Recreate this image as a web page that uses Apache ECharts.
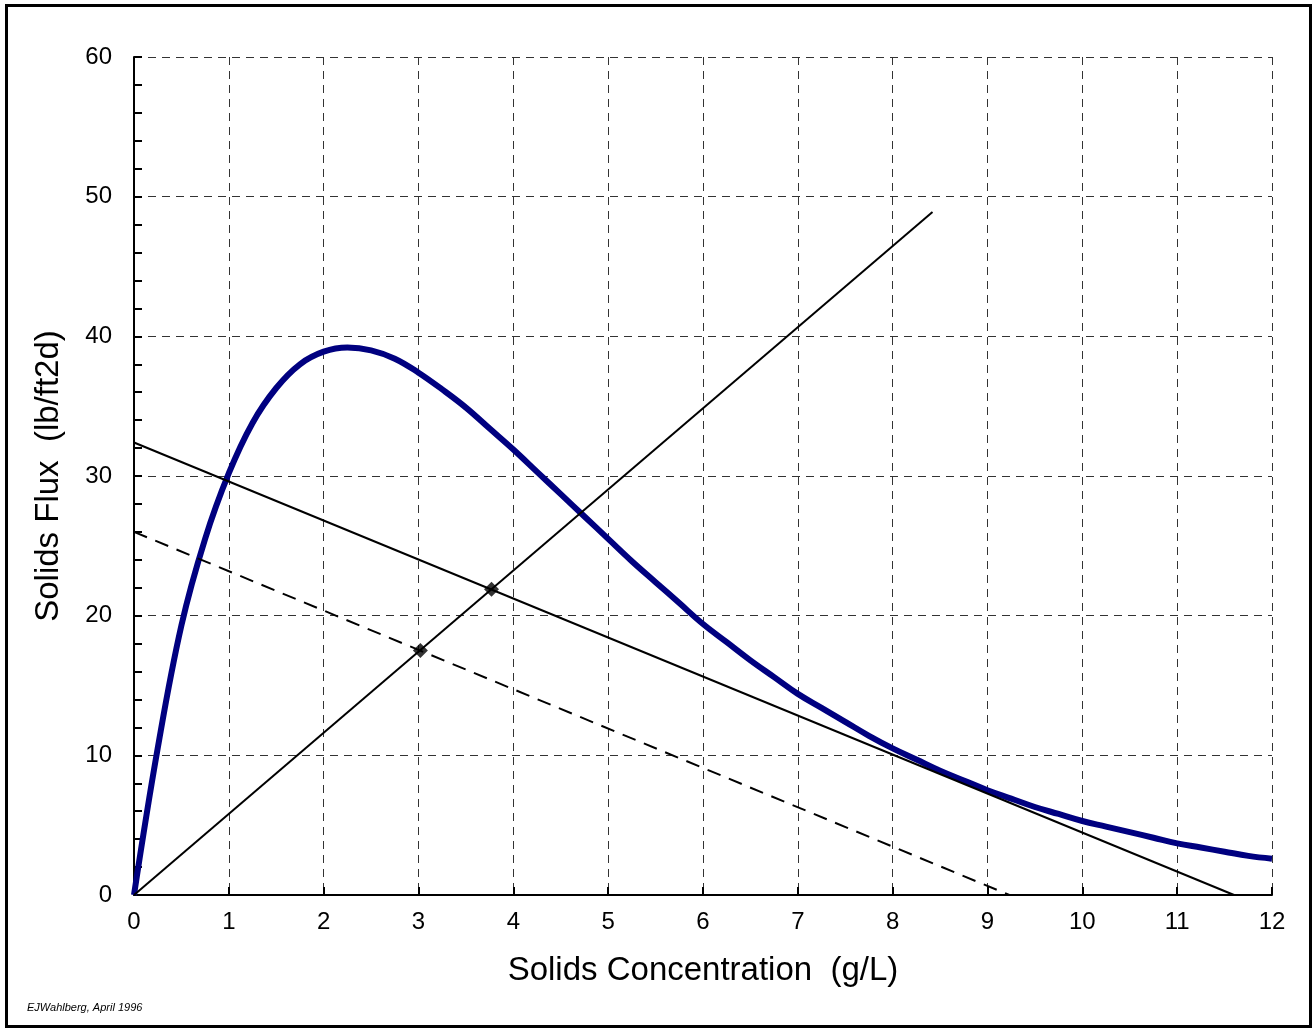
<!DOCTYPE html>
<html>
<head>
<meta charset="utf-8">
<title>Solids Flux</title>
<script src="https://cdn.jsdelivr.net/npm/echarts@6/dist/echarts.min.js"></script>
<style>
  html, body { margin: 0; padding: 0; background: #fff; }
  #chart { width: 1314px; height: 1030px; }
</style>
</head>
<body>
<div id="chart"></div>
<script>
// flux curve, every 0.25 g/L
var concX = [0, 0.25, 0.5, 0.75, 1, 1.25, 1.5, 1.75, 2, 2.25, 2.5, 2.75, 3, 3.25, 3.5, 3.75, 4, 4.25, 4.5, 4.75, 5, 5.25, 5.5, 5.75, 6, 6.25, 6.5, 6.75, 7, 7.25, 7.5, 7.75, 8, 8.25, 8.5, 8.75, 9, 9.25, 9.5, 9.75, 10, 10.25, 10.5, 10.75, 11, 11.25, 11.5, 11.75, 12];
var fluxY = [0, 10.5, 19.3, 25.5, 30.2, 33.8, 36.3, 38.0, 38.9, 39.2, 39.0, 38.4, 37.4, 36.2, 34.9, 33.4, 31.9, 30.3, 28.7, 27.1, 25.5, 23.9, 22.4, 20.9, 19.4, 18.1, 16.8, 15.6, 14.4, 13.4, 12.4, 11.4, 10.5, 9.7, 8.9, 8.2, 7.5, 6.9, 6.3, 5.8, 5.3, 4.9, 4.5, 4.1, 3.7, 3.4, 3.1, 2.8, 2.6];

// straight lines (end points)
var overflowLine = [[0, 0], [8.42, 48.9]];
var underflowLine = [[0, 32.4], [11.6, 0]];
var underflowDashed = [[0, 26], [9.23, 0]];
var opPoints = [[3.77, 21.9], [3.02, 17.5]];

var xTicks = ['0', '1', '2', '3', '4', '5', '6', '7', '8', '9', '10', '11', '12'];

var chart = echarts.init(document.getElementById('chart'));
var font = 'Liberation Sans, Arial, sans-serif';

var option = {
  animation: false,
  backgroundColor: '#fff',
  grid: { left: 134, right: 42, top: 57, bottom: 135 },
  graphic: [
    {
      type: 'rect',
      shape: { x: 6.5, y: 5.5, width: 1304, height: 1021 },
      style: { fill: 'none', stroke: '#000', lineWidth: 3 }
    },
    {
      type: 'text',
      left: 27, top: 1002,
      style: { text: 'EJWahlberg, April 1996', font: 'italic 11px ' + font, fill: '#000' }
    }
  ],
  xAxis: {
    type: 'value',
    min: 0, max: 12, interval: 1,
    name: 'Solids Concentration  (g/L)',
    nameLocation: 'middle',
    nameGap: 59,
    nameTextStyle: { fontFamily: font, fontSize: 33, color: '#000' },
    axisLine: { lineStyle: { color: '#000', width: 2 } },
    axisTick: { inside: true, length: 8, lineStyle: { color: '#000', width: 2 } },
    axisLabel: {
      margin: 15, fontFamily: font, fontSize: 24, color: '#000',
      formatter: function (v) { return xTicks[Math.round(v)]; }
    },
    splitLine: { show: true, lineStyle: { color: '#333', width: 1, type: [8, 6] } }
  },
  yAxis: {
    type: 'value',
    min: 0, max: 60, interval: 10,
    name: 'Solids Flux  (lb/ft2d)',
    nameLocation: 'middle',
    nameGap: 69,
    nameTextStyle: { fontFamily: font, fontSize: 33, color: '#000' },
    axisLine: { show: true, lineStyle: { color: '#000', width: 2 } },
    axisTick: { show: true, inside: true, length: 8, lineStyle: { color: '#000', width: 2 } },
    minorTick: { show: true, splitNumber: 5, length: 8, lineStyle: { color: '#000', width: 2 } },
    axisLabel: { margin: 22, fontFamily: font, fontSize: 24, color: '#000' },
    splitLine: { show: true, lineStyle: { color: '#333', width: 1, type: [8, 6] } }
  },
  series: [
    {
      type: 'line',
      data: concX.map(function (x, i) { return [x, fluxY[i]]; }),
      smooth: 0.4,
      showSymbol: false,
      lineStyle: { color: '#000080', width: 6 },
      z: 2
    },
    {
      type: 'line',
      data: overflowLine,
      showSymbol: false,
      lineStyle: { color: '#000', width: 2 },
      z: 3
    },
    {
      type: 'line',
      data: underflowLine,
      showSymbol: false,
      lineStyle: { color: '#000', width: 2 },
      z: 3
    },
    {
      type: 'line',
      data: underflowDashed,
      showSymbol: false,
      lineStyle: { color: '#000', width: 2, type: [14, 9] },
      z: 3
    },
    {
      type: 'scatter',
      data: opPoints,
      symbol: 'diamond',
      symbolSize: 15,
      itemStyle: { color: '#000' },
      z: 4
    }
  ]
};
chart.setOption(option);
</script>
</body>
</html>
